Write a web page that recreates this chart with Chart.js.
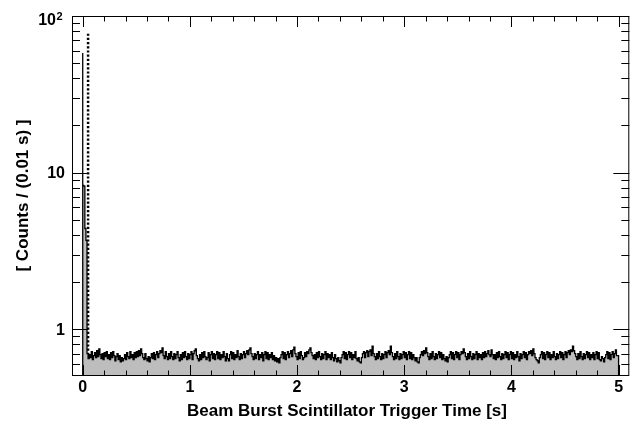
<!DOCTYPE html>
<html>
<head>
<meta charset="utf-8">
<script src="https://cdn.jsdelivr.net/npm/chart.js@4.4.1/dist/chart.umd.min.js"></script>
<style>
  html, body { margin: 0; padding: 0; background: #fff; }
  canvas { display: block; }
</style>
</head>
<body>
<canvas id="grafico" width="638" height="422"></canvas>
<script>
const binWidth = 0.01;
const counts = [
  58, 8.3, 8.2, 4.4, 3.7, 0.70, 0.65, 0.69, 0.66, 0.72, 0.64, 0.68, 0.71, 0.66, 0.73, 0.67, 0.75, 0.69, 0.65, 0.70, 0.64, 0.71, 0.67, 0.72, 0.65,
  0.69, 0.64, 0.71, 0.66, 0.72, 0.68, 0.63, 0.67, 0.70, 0.64, 0.68, 0.62, 0.66, 0.63, 0.65, 0.69, 0.64, 0.71, 0.67, 0.65, 0.72, 0.66, 0.69, 0.64, 0.71,
  0.66, 0.72, 0.67, 0.73, 0.68, 0.75, 0.70, 0.66, 0.64, 0.70, 0.65, 0.63, 0.67, 0.62, 0.66, 0.70, 0.65, 0.71, 0.64, 0.69, 0.72, 0.66, 0.70, 0.73, 0.71,
  0.76, 0.68, 0.65, 0.72, 0.67, 0.64, 0.70, 0.65, 0.72, 0.67, 0.64, 0.70, 0.65, 0.69, 0.72, 0.66, 0.63, 0.69, 0.64, 0.71, 0.66, 0.72, 0.67, 0.64, 0.70,
  0.65, 0.69, 0.72, 0.64, 0.70, 0.73, 0.75, 0.68, 0.65, 0.63, 0.69, 0.64, 0.71, 0.66, 0.72, 0.67, 0.64, 0.66, 0.71, 0.63, 0.69, 0.72, 0.65, 0.70, 0.64,
  0.69, 0.72, 0.65, 0.71, 0.64, 0.69, 0.66, 0.72, 0.67, 0.63, 0.70, 0.65, 0.63, 0.69, 0.72, 0.65, 0.71, 0.64, 0.69, 0.66, 0.73, 0.67, 0.64, 0.70, 0.65,
  0.69, 0.72, 0.66, 0.70, 0.73, 0.69, 0.74, 0.76, 0.70, 0.67, 0.64, 0.70, 0.65, 0.69, 0.72, 0.64, 0.69, 0.66, 0.71, 0.63, 0.69, 0.72, 0.65, 0.71, 0.64,
  0.69, 0.66, 0.71, 0.64, 0.68, 0.63, 0.66, 0.62, 0.65, 0.61, 0.66, 0.69, 0.72, 0.65, 0.71, 0.64, 0.69, 0.72, 0.66, 0.70, 0.73, 0.67, 0.74, 0.77, 0.70,
  0.67, 0.64, 0.71, 0.65, 0.72, 0.68, 0.64, 0.66, 0.71, 0.67, 0.72, 0.70, 0.74, 0.76, 0.71, 0.68, 0.65, 0.69, 0.64, 0.71, 0.66, 0.72, 0.67, 0.64, 0.70,
  0.65, 0.69, 0.72, 0.64, 0.70, 0.66, 0.69, 0.64, 0.71, 0.66, 0.63, 0.69, 0.65, 0.62, 0.66, 0.63, 0.61, 0.66, 0.69, 0.72, 0.65, 0.71, 0.64, 0.69, 0.72,
  0.66, 0.71, 0.64, 0.69, 0.66, 0.72, 0.65, 0.63, 0.66, 0.62, 0.61, 0.66, 0.70, 0.72, 0.66, 0.71, 0.73, 0.67, 0.72, 0.74, 0.68, 0.78, 0.70, 0.67, 0.64,
  0.70, 0.65, 0.72, 0.67, 0.64, 0.70, 0.65, 0.69, 0.72, 0.66, 0.71, 0.73, 0.69, 0.78, 0.71, 0.67, 0.64, 0.70, 0.65, 0.72, 0.67, 0.64, 0.70, 0.65, 0.69,
  0.72, 0.66, 0.71, 0.64, 0.69, 0.72, 0.65, 0.71, 0.64, 0.69, 0.66, 0.63, 0.66, 0.62, 0.61, 0.66, 0.69, 0.72, 0.68, 0.73, 0.70, 0.76, 0.71, 0.67, 0.64,
  0.70, 0.65, 0.72, 0.67, 0.64, 0.70, 0.65, 0.69, 0.72, 0.66, 0.71, 0.64, 0.69, 0.65, 0.63, 0.67, 0.62, 0.66, 0.69, 0.72, 0.65, 0.71, 0.64, 0.69, 0.72,
  0.66, 0.71, 0.64, 0.69, 0.72, 0.70, 0.75, 0.71, 0.67, 0.64, 0.70, 0.65, 0.72, 0.67, 0.64, 0.70, 0.65, 0.69, 0.72, 0.64, 0.70, 0.66, 0.69, 0.64, 0.71,
  0.66, 0.72, 0.67, 0.70, 0.73, 0.69, 0.67, 0.74, 0.69, 0.65, 0.69, 0.64, 0.71, 0.66, 0.72, 0.67, 0.64, 0.70, 0.65, 0.69, 0.72, 0.66, 0.71, 0.64, 0.69,
  0.72, 0.65, 0.71, 0.64, 0.69, 0.66, 0.72, 0.67, 0.63, 0.70, 0.65, 0.69, 0.72, 0.66, 0.71, 0.64, 0.69, 0.72, 0.70, 0.73, 0.68, 0.75, 0.70, 0.66, 0.64,
  0.63, 0.61, 0.66, 0.69, 0.72, 0.65, 0.71, 0.64, 0.69, 0.72, 0.66, 0.71, 0.64, 0.69, 0.66, 0.72, 0.67, 0.64, 0.70, 0.65, 0.69, 0.72, 0.66, 0.71, 0.64,
  0.69, 0.72, 0.66, 0.71, 0.73, 0.69, 0.74, 0.72, 0.78, 0.73, 0.70, 0.67, 0.64, 0.70, 0.65, 0.72, 0.67, 0.64, 0.70, 0.65, 0.69, 0.72, 0.66, 0.71, 0.64,
  0.69, 0.66, 0.71, 0.64, 0.69, 0.72, 0.65, 0.71, 0.64, 0.63, 0.67, 0.65, 0.62, 0.66, 0.69, 0.72, 0.65, 0.71, 0.64, 0.69, 0.72, 0.66, 0.70, 0.74, 0.68
];

// linea punteada de corte
const cutX = [0.05, 0.05];
const cutY = [0.5035, 77];

// ejes
const xRange = [-0.1, 5.1];
const yRange = [0.5035, 100];
const xMajorTicks = [0, 1, 2, 3, 4, 5];
const xTickLabels = ['0', '1', '2', '3', '4', '5'];
const yMajorTicks = [1, 10, 100];
const yTickLabels = ['1', '10', '10^2'];
const xTitle = 'Beam Burst Scintillator Trigger Time [s]';
const yTitle = '[ Counts / (0.01 s) ]';

// puntos del histograma en escalones
const histPoints = [{ x: 0, y: yRange[0] }];
counts.forEach((c, i) => histPoints.push({ x: i * binWidth, y: c }));
histPoints.push({ x: counts.length * binWidth, y: counts[counts.length - 1] });
histPoints.push({ x: counts.length * binWidth, y: yRange[0] });

const FONT = '"Liberation Sans", Arial, Helvetica, sans-serif';

// marco, ticks hacia dentro en los cuatro lados y textos estilo ROOT
const rootAxes = {
  id: 'rootAxes',
  afterDatasetsDraw(chart) {
    const ctx = chart.ctx;
    const a = chart.chartArea;
    const xs = chart.scales.x, ys = chart.scales.y;
    ctx.save();
    ctx.strokeStyle = '#000';
    ctx.lineWidth = 1;
    ctx.strokeRect(a.left + 0.5, a.top + 0.5, a.right - a.left - 1, a.bottom - a.top - 1);

    ctx.beginPath();
    // x ticks
    for (let k = 0; k <= 25; k++) {
      const v = k * 0.2;
      const px = Math.round(xs.getPixelForValue(v)) + 0.5;
      const major = k % 5 === 0;
      const len = major ? 11 : 5.5;
      ctx.moveTo(px, a.bottom); ctx.lineTo(px, a.bottom - len);
      ctx.moveTo(px, a.top); ctx.lineTo(px, a.top + len);
    }
    // y ticks (log)
    [0.1, 1, 10].forEach(d => {
      for (let m = 1; m <= 9; m++) {
        const v = d * m;
        if (v < yRange[0] || v > yRange[1]) continue;
        const py = Math.round(ys.getPixelForValue(v)) + 0.5;
        const len = m === 1 ? 16 : 8;
        ctx.moveTo(a.left, py); ctx.lineTo(a.left + len, py);
        ctx.moveTo(a.right, py); ctx.lineTo(a.right - len, py);
      }
    });
    const pTop = Math.round(ys.getPixelForValue(100)) + 0.5;
    ctx.moveTo(a.left, pTop); ctx.lineTo(a.left + 16, pTop);
    ctx.moveTo(a.right, pTop); ctx.lineTo(a.right - 16, pTop);
    ctx.stroke();

    // etiquetas
    ctx.fillStyle = '#000';
    ctx.font = 'bold 16px ' + FONT;
    ctx.textAlign = 'center';
    ctx.textBaseline = 'alphabetic';
    xMajorTicks.forEach((v, i) => {
      ctx.fillText(xTickLabels[i], xs.getPixelForValue(v), 392);
    });
    yMajorTicks.forEach((v, i) => {
      const py = ys.getPixelForValue(v);
      const lab = yTickLabels[i];
      if (lab.includes('^')) {
        const [base, exp] = lab.split('^');
        ctx.textAlign = 'right';
        ctx.font = 'bold 16px ' + FONT;
        ctx.fillText(base, 56, py + 8.5);
        ctx.textAlign = 'left';
        ctx.font = 'bold 11px ' + FONT;
        ctx.fillText(exp, 56.5, py + 4);
      } else {
        ctx.textAlign = 'right';
        ctx.font = 'bold 16px ' + FONT;
        ctx.fillText(lab, 65, py + 5.7);
      }
    });

    // titulos
    ctx.font = 'bold 17px ' + FONT;
    ctx.textAlign = 'center';
    ctx.fillText(xTitle, 347, 416);
    ctx.translate(28, 195.5);
    ctx.rotate(-Math.PI / 2);
    ctx.fillText(yTitle, 0, 0);
    ctx.restore();
  }
};

const ctx = document.getElementById('grafico').getContext('2d');
const grafico = new Chart(ctx, {
  type: 'line',
  data: {
    datasets: [{
      data: histPoints,
      stepped: 'after',
      borderColor: '#000',
      borderWidth: 1.3,
      backgroundColor: '#bdbdbd',
      fill: 'start',
      pointRadius: 0
    }, {
      data: cutX.map((x, i) => ({ x: x, y: cutY[i] })),
      borderColor: '#000',
      borderWidth: 2.5,
      borderDash: [2.2, 2],
      fill: false,
      pointRadius: 0
    }]
  },
  options: {
    responsive: false,
    animation: false,
    events: [],
    layout: { padding: { left: 72, top: 16, right: 8.7, bottom: 46 } },
    scales: {
      x: { type: 'linear', min: xRange[0], max: xRange[1], display: false },
      y: { type: 'logarithmic', min: yRange[0], max: yRange[1], display: false }
    },
    plugins: {
      legend: { display: false },
      tooltip: { enabled: false }
    }
  },
  plugins: [rootAxes]
});
</script>
</body>
</html>
